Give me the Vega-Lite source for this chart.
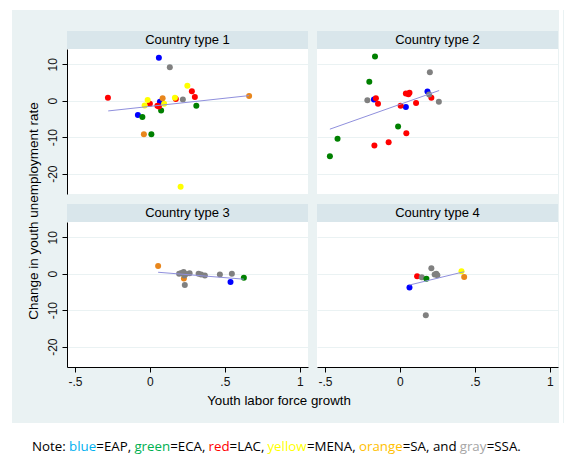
{
  "$schema": "https://vega.github.io/schema/vega-lite/v6.json",
  "background": "#eaf2f3",
  "padding": 0,
  "config": {
    "view": {"stroke": null},
    "font": "Liberation Sans",
    "concat": {"spacing": 0},
    "axis": {
      "labelFont": "Liberation Sans", "labelFontSize": 12, "labelColor": "#111",
      "tickColor": "#000", "tickSize": 5, "domainColor": "#000", "domainWidth": 1,
      "gridColor": "#eaf2f3", "gridWidth": 1, "labelFlush": false, "title": null
    }
  },
  "datasets": {
    "pts": [
      {"type": 1, "region": "EAP", "x": 0.06, "y": 11.8},
      {"type": 1, "region": "EAP", "x": -0.08, "y": -3.9},
      {"type": 1, "region": "EAP", "x": 0.067, "y": -0.3},
      {"type": 1, "region": "ECA", "x": 0.075, "y": -2.7},
      {"type": 1, "region": "ECA", "x": 0.31, "y": -1.4},
      {"type": 1, "region": "ECA", "x": -0.05, "y": -4.5},
      {"type": 1, "region": "ECA", "x": 0.01, "y": -9.2},
      {"type": 1, "region": "LAC", "x": 0.28, "y": 2.6},
      {"type": 1, "region": "LAC", "x": 0.30, "y": 1.0},
      {"type": 1, "region": "LAC", "x": -0.28, "y": 0.8},
      {"type": 1, "region": "LAC", "x": 0.173, "y": 0.5},
      {"type": 1, "region": "LAC", "x": 0.0, "y": -0.8},
      {"type": 1, "region": "LAC", "x": 0.05, "y": -1.4},
      {"type": 1, "region": "LAC", "x": 0.06, "y": -1.6},
      {"type": 1, "region": "MENA", "x": 0.25, "y": 4.1},
      {"type": 1, "region": "MENA", "x": -0.015, "y": 0.2},
      {"type": 1, "region": "MENA", "x": 0.167, "y": 0.8},
      {"type": 1, "region": "MENA", "x": -0.035, "y": -1.3},
      {"type": 1, "region": "MENA", "x": 0.095, "y": -0.8},
      {"type": 1, "region": "MENA", "x": 0.205, "y": -23.6},
      {"type": 1, "region": "SA", "x": 0.662, "y": 1.3},
      {"type": 1, "region": "SA", "x": 0.085, "y": 0.65},
      {"type": 1, "region": "SA", "x": -0.04, "y": -9.2},
      {"type": 1, "region": "SSA", "x": 0.133, "y": 9.2},
      {"type": 1, "region": "SSA", "x": 0.22, "y": 0.3},
      {"type": 2, "region": "EAP", "x": -0.173, "y": 0.3},
      {"type": 2, "region": "EAP", "x": 0.184, "y": 2.5},
      {"type": 2, "region": "EAP", "x": 0.04, "y": -1.7},
      {"type": 2, "region": "ECA", "x": -0.166, "y": 12.1},
      {"type": 2, "region": "ECA", "x": -0.204, "y": 5.2},
      {"type": 2, "region": "ECA", "x": -0.012, "y": -7.1},
      {"type": 2, "region": "ECA", "x": -0.416, "y": -10.4},
      {"type": 2, "region": "ECA", "x": -0.467, "y": -15.2},
      {"type": 2, "region": "LAC", "x": -0.16, "y": 0.7},
      {"type": 2, "region": "LAC", "x": -0.146, "y": -0.8},
      {"type": 2, "region": "LAC", "x": 0.04, "y": 2.0},
      {"type": 2, "region": "LAC", "x": 0.064, "y": 2.2},
      {"type": 2, "region": "LAC", "x": 0.057, "y": 1.8},
      {"type": 2, "region": "LAC", "x": 0.21, "y": 0.8},
      {"type": 2, "region": "LAC", "x": 0.108, "y": -0.6},
      {"type": 2, "region": "LAC", "x": 0.005, "y": -1.4},
      {"type": 2, "region": "LAC", "x": 0.043, "y": -8.9},
      {"type": 2, "region": "LAC", "x": -0.075, "y": -11.4},
      {"type": 2, "region": "LAC", "x": -0.17, "y": -12.3},
      {"type": 2, "region": "SSA", "x": 0.2, "y": 7.8},
      {"type": 2, "region": "SSA", "x": -0.217, "y": 0.1},
      {"type": 2, "region": "SSA", "x": 0.195, "y": 1.7},
      {"type": 2, "region": "SSA", "x": 0.26, "y": -0.3},
      {"type": 3, "region": "SA", "x": 0.055, "y": 2.1},
      {"type": 3, "region": "SA", "x": 0.227, "y": -1.3},
      {"type": 3, "region": "SSA", "x": 0.21, "y": 0.2},
      {"type": 3, "region": "SSA", "x": 0.225, "y": 0.5},
      {"type": 3, "region": "SSA", "x": 0.24, "y": -0.1},
      {"type": 3, "region": "SSA", "x": 0.265, "y": 0.1},
      {"type": 3, "region": "SSA", "x": 0.23, "y": -0.5},
      {"type": 3, "region": "SSA", "x": 0.195, "y": 0.0},
      {"type": 3, "region": "SSA", "x": 0.233, "y": -3.1},
      {"type": 3, "region": "SSA", "x": 0.325, "y": 0.0},
      {"type": 3, "region": "SSA", "x": 0.342, "y": -0.2},
      {"type": 3, "region": "SSA", "x": 0.367, "y": -0.5},
      {"type": 3, "region": "SSA", "x": 0.467, "y": -0.2},
      {"type": 3, "region": "SSA", "x": 0.547, "y": 0.0},
      {"type": 3, "region": "EAP", "x": 0.538, "y": -2.3},
      {"type": 3, "region": "ECA", "x": 0.627, "y": -1.1},
      {"type": 4, "region": "EAP", "x": 0.064, "y": -3.8},
      {"type": 4, "region": "LAC", "x": 0.115, "y": -0.7},
      {"type": 4, "region": "MENA", "x": 0.411, "y": 0.7},
      {"type": 4, "region": "SA", "x": 0.429, "y": -0.9},
      {"type": 4, "region": "SSA", "x": 0.21, "y": 1.5},
      {"type": 4, "region": "SSA", "x": 0.232, "y": -0.2},
      {"type": 4, "region": "SSA", "x": 0.243, "y": 0.0},
      {"type": 4, "region": "SSA", "x": 0.25, "y": -0.4},
      {"type": 4, "region": "SSA", "x": 0.146, "y": -1.0},
      {"type": 4, "region": "SSA", "x": 0.173, "y": -11.4},
      {"type": 4, "region": "ECA", "x": 0.177, "y": -1.4}
    ],
    "fits": [
      {"type": 1, "x": -0.278, "y": -2.8},
      {"type": 1, "x": 0.662, "y": 1.4},
      {"type": 2, "x": -0.467, "y": -7.8},
      {"type": 2, "x": 0.262, "y": 2.8},
      {"type": 3, "x": 0.055, "y": 0.4},
      {"type": 3, "x": 0.627, "y": -1.5},
      {"type": 4, "x": 0.064, "y": -3.1},
      {"type": 4, "x": 0.429, "y": 0.55}
    ]
  },
  "spacing": 0,
  "vconcat": [
    {
      "width": 564, "height": 10,
      "view": {"fill": "white", "stroke": null},
      "data": {"values": []},
      "mark": "point", "encoding": {}
    },
    {
      "spacing": 1,
      "hconcat": [
        {
          "spacing": 14,
          "hconcat": [
            {
              "width": 12, "height": 413,
              "view": {"fill": "white", "stroke": null},
              "data": {"values": []},
              "mark": "point", "encoding": {}
            },
            {
              "spacing": 0,
              "vconcat": [
                {
                  "width": 1, "height": 21,
                  "data": {"values": []},
                  "mark": "point", "encoding": {}
                },
                {
                  "spacing": 4,
                  "hconcat": [
                    {
                      "width": 14, "height": 360,
                      "data": {"values": [{"t": "Change in youth unemployment rate"}]},
                      "mark": {"type": "text", "angle": 270, "fontSize": 13.5, "baseline": "middle", "align": "center", "color": "#000", "font": "Liberation Sans"},
                      "encoding": {"text": {"field": "t"}}
                    },
                    {
                      "spacing": 6,
                      "vconcat": [
                        {
                          "columns": 2,
                          "spacing": {"row": 10, "column": 9},
                          "concat": [
                            {
                              "spacing": 0,
                              "vconcat": [
                                {
                                  "width": 241, "height": 18,
                                  "view": {"fill": "#d9e6eb", "stroke": null},
                                  "data": {"values": [{"t": "Country type 1"}]},
                                  "mark": {"type": "text", "fontSize": 13, "baseline": "middle", "align": "center", "color": "#000"},
                                  "encoding": {"text": {"field": "t"}}
                                },
                                {
                                  "width": 241, "height": 145,
                                  "view": {"fill": "white", "stroke": null},
                                  "encoding": {
                                    "x": {"field": "x", "type": "quantitative", "scale": {"domain": [-0.553, 1.055], "nice": false, "zero": false}, "axis": null},
                                    "y": {"field": "y", "type": "quantitative", "scale": {"domain": [-25.58, 14.18], "nice": false, "zero": false},
                                      "axis": {"values": [-20, -10, 0, 10], "labelExpr": "toString(datum.value)", "labelAngle": 270, "labelAlign": "center", "labelBaseline": "alphabetic", "labelPadding": 6, "grid": true}}
                                  },
                                  "layer": [
                                    {
                                      "data": {"name": "pts"},
                                      "transform": [{"filter": "datum.type == 1"}],
                                      "mark": {"type": "circle", "size": 36, "opacity": 1},
                                      "encoding": {"color": {"field": "region", "type": "nominal", "legend": null, "scale": {"domain": ["EAP", "ECA", "LAC", "MENA", "SA", "SSA"], "range": ["#0000ff", "#008000", "#ff0000", "#ffff00", "#e8861c", "#808080"]}}}
                                    },
                                    {
                                      "data": {"name": "fits"},
                                      "transform": [{"filter": "datum.type == 1"}],
                                      "mark": {"type": "line", "color": "#9090dd", "strokeWidth": 1},
                                      "encoding": {}
                                    }
                                  ]
                                }
                              ]
                            },
                            {
                              "spacing": 0,
                              "vconcat": [
                                {
                                  "width": 241, "height": 18,
                                  "view": {"fill": "#d9e6eb", "stroke": null},
                                  "data": {"values": [{"t": "Country type 2"}]},
                                  "mark": {"type": "text", "fontSize": 13, "baseline": "middle", "align": "center", "color": "#000"},
                                  "encoding": {"text": {"field": "t"}}
                                },
                                {
                                  "width": 241, "height": 145,
                                  "view": {"fill": "white", "stroke": null},
                                  "encoding": {
                                    "x": {"field": "x", "type": "quantitative", "scale": {"domain": [-0.553, 1.055], "nice": false, "zero": false}, "axis": null},
                                    "y": {"field": "y", "type": "quantitative", "scale": {"domain": [-25.58, 14.18], "nice": false, "zero": false},
                                      "axis": {"values": [-20, -10, 0, 10], "labels": false, "ticks": false, "domain": false, "grid": true}}
                                  },
                                  "layer": [
                                    {
                                      "data": {"name": "pts"},
                                      "transform": [{"filter": "datum.type == 2"}],
                                      "mark": {"type": "circle", "size": 36, "opacity": 1},
                                      "encoding": {"color": {"field": "region", "type": "nominal", "legend": null, "scale": {"domain": ["EAP", "ECA", "LAC", "MENA", "SA", "SSA"], "range": ["#0000ff", "#008000", "#ff0000", "#ffff00", "#e8861c", "#808080"]}}}
                                    },
                                    {
                                      "data": {"name": "fits"},
                                      "transform": [{"filter": "datum.type == 2"}],
                                      "mark": {"type": "line", "color": "#9090dd", "strokeWidth": 1},
                                      "encoding": {}
                                    }
                                  ]
                                }
                              ]
                            },
                            {
                              "spacing": 0,
                              "vconcat": [
                                {
                                  "width": 241, "height": 18,
                                  "view": {"fill": "#d9e6eb", "stroke": null},
                                  "data": {"values": [{"t": "Country type 3"}]},
                                  "mark": {"type": "text", "fontSize": 13, "baseline": "middle", "align": "center", "color": "#000"},
                                  "encoding": {"text": {"field": "t"}}
                                },
                                {
                                  "width": 241, "height": 145,
                                  "view": {"fill": "white", "stroke": null},
                                  "encoding": {
                                    "x": {"field": "x", "type": "quantitative", "scale": {"domain": [-0.553, 1.055], "nice": false, "zero": false},
                                      "axis": {"values": [-0.5, 0, 0.5, 1], "labelExpr": "replace(toString(datum.value), '0.', '.')", "labelPadding": 4, "grid": false}},
                                    "y": {"field": "y", "type": "quantitative", "scale": {"domain": [-25.58, 14.18], "nice": false, "zero": false},
                                      "axis": {"values": [-20, -10, 0, 10], "labelExpr": "toString(datum.value)", "labelAngle": 270, "labelAlign": "center", "labelBaseline": "alphabetic", "labelPadding": 6, "grid": true}}
                                  },
                                  "layer": [
                                    {
                                      "data": {"name": "pts"},
                                      "transform": [{"filter": "datum.type == 3"}],
                                      "mark": {"type": "circle", "size": 36, "opacity": 1},
                                      "encoding": {"color": {"field": "region", "type": "nominal", "legend": null, "scale": {"domain": ["EAP", "ECA", "LAC", "MENA", "SA", "SSA"], "range": ["#0000ff", "#008000", "#ff0000", "#ffff00", "#e8861c", "#808080"]}}}
                                    },
                                    {
                                      "data": {"name": "fits"},
                                      "transform": [{"filter": "datum.type == 3"}],
                                      "mark": {"type": "line", "color": "#9090dd", "strokeWidth": 1},
                                      "encoding": {}
                                    }
                                  ]
                                }
                              ]
                            },
                            {
                              "spacing": 0,
                              "vconcat": [
                                {
                                  "width": 241, "height": 18,
                                  "view": {"fill": "#d9e6eb", "stroke": null},
                                  "data": {"values": [{"t": "Country type 4"}]},
                                  "mark": {"type": "text", "fontSize": 13, "baseline": "middle", "align": "center", "color": "#000"},
                                  "encoding": {"text": {"field": "t"}}
                                },
                                {
                                  "width": 241, "height": 145,
                                  "view": {"fill": "white", "stroke": null},
                                  "encoding": {
                                    "x": {"field": "x", "type": "quantitative", "scale": {"domain": [-0.553, 1.055], "nice": false, "zero": false},
                                      "axis": {"values": [-0.5, 0, 0.5, 1], "labelExpr": "replace(toString(datum.value), '0.', '.')", "labelPadding": 4, "grid": false}},
                                    "y": {"field": "y", "type": "quantitative", "scale": {"domain": [-25.58, 14.18], "nice": false, "zero": false},
                                      "axis": {"values": [-20, -10, 0, 10], "labels": false, "ticks": false, "domain": false, "grid": true}}
                                  },
                                  "layer": [
                                    {
                                      "data": {"name": "pts"},
                                      "transform": [{"filter": "datum.type == 4"}],
                                      "mark": {"type": "circle", "size": 36, "opacity": 1},
                                      "encoding": {"color": {"field": "region", "type": "nominal", "legend": null, "scale": {"domain": ["EAP", "ECA", "LAC", "MENA", "SA", "SSA"], "range": ["#0000ff", "#008000", "#ff0000", "#ffff00", "#e8861c", "#808080"]}}}
                                    },
                                    {
                                      "data": {"name": "fits"},
                                      "transform": [{"filter": "datum.type == 4"}],
                                      "mark": {"type": "line", "color": "#9090dd", "strokeWidth": 1},
                                      "encoding": {}
                                    }
                                  ]
                                }
                              ]
                            }
                          ]
                        },
                        {
                          "width": 480, "height": 16,
                          "data": {"values": [{"t": "Youth labor force growth"}]},
                          "mark": {"type": "text", "fontSize": 13.3, "baseline": "middle", "align": "center", "color": "#000", "dx": -28},
                          "encoding": {"text": {"field": "t"}}
                        }
                      ]
                    }
                  ]
                }
              ]
            }
          ]
        },
        {
          "width": 4, "height": 413,
          "view": {"fill": "white", "stroke": null},
          "data": {"values": []},
          "mark": "point", "encoding": {}
        }
      ]
    },
    {
      "width": 564, "height": 31,
      "view": {"fill": "white", "stroke": null},
      "data": {"values": [{}]},
      "layer": [
        {"mark": {"type": "text", "text": "Note: ", "align": "left", "baseline": "alphabetic", "dx": -250, "dy": 12, "font": "Open Sans", "fontSize": 13.3, "color": "#000"}},
        {"mark": {"type": "text", "text": "blue", "align": "left", "baseline": "alphabetic", "dx": -212.9, "dy": 12, "font": "Open Sans", "fontSize": 13.3, "color": "#00b0f0"}},
        {"mark": {"type": "text", "text": "=EAP, ", "align": "left", "baseline": "alphabetic", "dx": -185.7, "dy": 12, "font": "Open Sans", "fontSize": 13.3, "color": "#000"}},
        {"mark": {"type": "text", "text": "green", "align": "left", "baseline": "alphabetic", "dx": -147.6, "dy": 12, "font": "Open Sans", "fontSize": 13.3, "color": "#00b050"}},
        {"mark": {"type": "text", "text": "=ECA, ", "align": "left", "baseline": "alphabetic", "dx": -111.8, "dy": 12, "font": "Open Sans", "fontSize": 13.3, "color": "#000"}},
        {"mark": {"type": "text", "text": "red", "align": "left", "baseline": "alphabetic", "dx": -73.4, "dy": 12, "font": "Open Sans", "fontSize": 13.3, "color": "#ff0000"}},
        {"mark": {"type": "text", "text": "=LAC, ", "align": "left", "baseline": "alphabetic", "dx": -52.4, "dy": 12, "font": "Open Sans", "fontSize": 13.3, "color": "#000"}},
        {"mark": {"type": "text", "text": "yellow", "align": "left", "baseline": "alphabetic", "dx": -14.6, "dy": 12, "font": "Open Sans", "fontSize": 13.3, "color": "#ffff00"}},
        {"mark": {"type": "text", "text": "=MENA, ", "align": "left", "baseline": "alphabetic", "dx": 24.9, "dy": 12, "font": "Open Sans", "fontSize": 13.3, "color": "#000"}},
        {"mark": {"type": "text", "text": "orange", "align": "left", "baseline": "alphabetic", "dx": 77.0, "dy": 12, "font": "Open Sans", "fontSize": 13.3, "color": "#ffc000"}},
        {"mark": {"type": "text", "text": "=SA, and ", "align": "left", "baseline": "alphabetic", "dx": 120.7, "dy": 12, "font": "Open Sans", "fontSize": 13.3, "color": "#000"}},
        {"mark": {"type": "text", "text": "gray", "align": "left", "baseline": "alphabetic", "dx": 177.7, "dy": 12, "font": "Open Sans", "fontSize": 13.3, "color": "#a6a6a6"}},
        {"mark": {"type": "text", "text": "=SSA.", "align": "left", "baseline": "alphabetic", "dx": 204.7, "dy": 12, "font": "Open Sans", "fontSize": 13.3, "color": "#000"}}
      ]
    }
  ]
}
